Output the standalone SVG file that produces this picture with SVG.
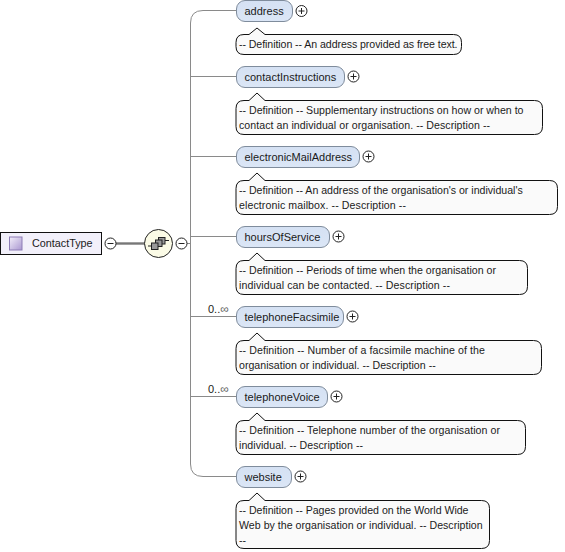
<svg xmlns="http://www.w3.org/2000/svg" width="565" height="552" viewBox="0 0 565 552">
<style>
text{font-family:"Liberation Sans",Arial,sans-serif;font-size:11px;fill:#1a1a1a}
text.d{font-size:10.600px}
.inf{fill:#666;font-size:12px}
.el{fill:url(#g);stroke:#7f8c9c;stroke-width:1}
.doc{fill:#fafafa;stroke:#111;stroke-width:1}
.c{fill:none;stroke:#8a8a8a;stroke-width:1}
.b{fill:#fff;stroke:#222;stroke-width:1}
.s{fill:none;stroke:#222;stroke-width:1}
</style>
<defs>
<linearGradient id="g" x1="0" y1="0" x2="0" y2="1"><stop offset="0" stop-color="#d5e1f3"/><stop offset="1" stop-color="#dbe6f6"/></linearGradient>
<linearGradient id="p" x1="0" y1="0" x2="1" y2="1"><stop offset="0" stop-color="#f3effa"/><stop offset="1" stop-color="#a996d0"/></linearGradient>
<g id="plus"><circle r="5.500" class="b"/><path class="s" d="M-3 0H3M0 -3V3"/></g>
<g id="minus"><circle r="5.500" class="b"/><path class="s" d="M-3 0H3"/></g>
</defs>
<g id="connectors">
<path class="c" d="M236 10.500H203Q190.500 10.500 190.500 23V464Q190.500 476.500 203 476.500H236"/>
<path class="c" d="M187 243.500H190.500M190.500 76.500H236M190.500 156.500H236M190.500 236.500H236M190.500 316.500H236M190.500 396.500H236"/>
<path d="M116 243.500H145" fill="none" stroke="#777" stroke-width="2.400"/>
</g>
<g id="ContactType">
<rect x="0.500" y="232.500" width="101" height="22" fill="#f2f0fa" stroke="#111"/>
<rect x="9.500" y="237" width="12.500" height="13" fill="url(#p)" stroke="#8d7db5"/>
<text x="32" y="247" style="font-size:10.800px">ContactType</text>
<use href="#minus" x="110.500" y="243.500"/>
</g>
<g id="sequence">
<circle cx="158.500" cy="243.500" r="14" fill="#fbfbe6" stroke="#222"/>
<path d="M148 246H152M165 240.500H169" stroke="#222" fill="none"/>
<rect x="158.500" y="237.500" width="6.500" height="6.500" fill="#999" stroke="#222"/>
<rect x="155.500" y="240" width="6.500" height="6.500" fill="#999" stroke="#222"/>
<rect x="151.500" y="243" width="6.500" height="6.500" fill="#999" stroke="#222"/>
<use href="#minus" x="181.500" y="243.500"/>
</g>
<g id="address">
<rect class="el" x="236.500" y="0.500" width="56" height="21" rx="8.500"/>
<text x="244.500" y="15">address</text>
<use href="#plus" x="301.500" y="11"/>
<path class="doc" d="M244 34.500H249L257 28L265 34.500H453.500Q461.500 34.500 461.500 42.500V46.500Q461.500 54.500 453.500 54.500H244Q236 54.500 236 46.500V42.500Q236 34.500 244 34.500Z"/>
<text class="d" x="239" y="48" textLength="218.500">-- Definition -- An address provided as free text.</text>
</g>
<g id="contactInstructions">
<rect class="el" x="236.500" y="66.500" width="108" height="21" rx="8.500"/>
<text x="244.500" y="81">contactInstructions</text>
<use href="#plus" x="353.500" y="76.500"/>
<path class="doc" d="M244 100.500H249L257 93L265 100.500H534.500Q542.500 100.500 542.500 108.500V126.500Q542.500 134.500 534.500 134.500H244Q236 134.500 236 126.500V108.500Q236 100.500 244 100.500Z"/>
<text class="d" x="239" y="114" textLength="284.500">-- Definition -- Supplementary instructions on how or when to</text>
<text class="d" x="239" y="129" textLength="251">contact an individual or organisation. -- Description --</text>
</g>
<g id="electronicMailAddress">
<rect class="el" x="236.500" y="146.500" width="123" height="21" rx="8.500"/>
<text x="244.500" y="161">electronicMailAddress</text>
<use href="#plus" x="368.500" y="156.500"/>
<path class="doc" d="M244 180.500H249L257 173L265 180.500H549.500Q557.500 180.500 557.500 188.500V206.500Q557.500 214.500 549.500 214.500H244Q236 214.500 236 206.500V188.500Q236 180.500 244 180.500Z"/>
<text class="d" x="239" y="194" textLength="283.700">-- Definition -- An address of the organisation's or individual's</text>
<text class="d" x="239" y="209" textLength="167">electronic mailbox. -- Description --</text>
</g>
<g id="hoursOfService">
<rect class="el" x="236.500" y="226.500" width="93" height="21" rx="8.500"/>
<text x="244.500" y="241">hoursOfService</text>
<use href="#plus" x="338.500" y="236.500"/>
<path class="doc" d="M244 260.500H249L257 253L265 260.500H519.500Q527.500 260.500 527.500 268.500V286.500Q527.500 294.500 519.500 294.500H244Q236 294.500 236 286.500V268.500Q236 260.500 244 260.500Z"/>
<text class="d" x="239" y="274" textLength="257">-- Definition -- Periods of time when the organisation or</text>
<text class="d" x="239" y="289" textLength="211">individual can be contacted. -- Description --</text>
</g>
<g id="telephoneFacsimile">
<text x="208" y="313">0..<tspan class="inf">∞</tspan></text>
<rect class="el" x="236.500" y="306.500" width="107" height="21" rx="8.500"/>
<text x="244.500" y="321">telephoneFacsimile</text>
<use href="#plus" x="352.500" y="316.500"/>
<path class="doc" d="M244 340.500H249L257 333L265 340.500H533.500Q541.500 340.500 541.500 348.500V366.500Q541.500 374.500 533.500 374.500H244Q236 374.500 236 366.500V348.500Q236 340.500 244 340.500Z"/>
<text class="d" x="239" y="354" textLength="246">-- Definition -- Number of a facsimile machine of the</text>
<text class="d" x="239" y="369" textLength="196.700">organisation or individual. -- Description --</text>
</g>
<g id="telephoneVoice">
<text x="208" y="393">0..<tspan class="inf">∞</tspan></text>
<rect class="el" x="236.500" y="386.500" width="91" height="21" rx="8.500"/>
<text x="244.500" y="401">telephoneVoice</text>
<use href="#plus" x="336.500" y="396.500"/>
<path class="doc" d="M244 420.500H249L257 413L265 420.500H517.500Q525.500 420.500 525.500 428.500V446.500Q525.500 454.500 517.500 454.500H244Q236 454.500 236 446.500V428.500Q236 420.500 244 420.500Z"/>
<text class="d" x="239" y="434" textLength="261">-- Definition -- Telephone number of the organisation or</text>
<text class="d" x="239" y="449" textLength="124">individual. -- Description --</text>
</g>
<g id="website">
<rect class="el" x="236.500" y="466.500" width="55" height="21" rx="8.500"/>
<text x="244.500" y="481">website</text>
<use href="#plus" x="300.500" y="476.500"/>
<path class="doc" d="M244 500.500H249L257 493L265 500.500H481.500Q489.500 500.500 489.500 508.500V540.500Q489.500 548.500 481.500 548.500H244Q236 548.500 236 540.500V508.500Q236 500.500 244 500.500Z"/>
<text class="d" x="239" y="514" textLength="229.500">-- Definition -- Pages provided on the World Wide</text>
<text class="d" x="239" y="529" textLength="243.700">Web by the organisation or individual. -- Description</text>
<text class="d" x="239" y="544">--</text>
</g>
</svg>
